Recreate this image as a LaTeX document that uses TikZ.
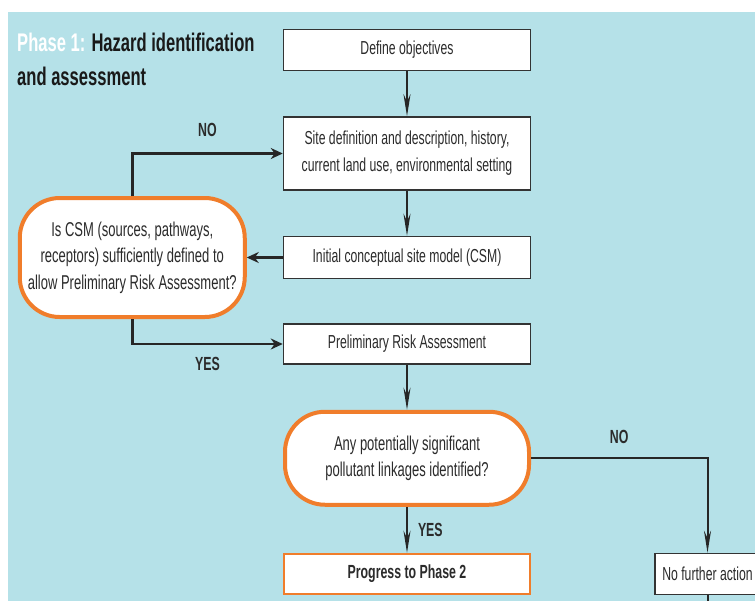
\documentclass[tikz,border=0pt]{standalone}
\usepackage{fontspec}
\setmainfont{Liberation Sans}[FakeStretch=0.65]
\usetikzlibrary{arrows.meta, positioning}
\definecolor{phasebg}{HTML}{B5E1E8}
\definecolor{decorange}{HTML}{F07D2B}
\definecolor{boxline}{HTML}{333333}
\definecolor{boxtext}{HTML}{2B2B2B}
\tikzset{
  stepbox/.style={rectangle, draw=boxline, fill=white, line width=1.5pt,
                  minimum width=247pt, minimum height=41pt, inner sep=2pt,
                  align=center, text=boxtext, font=\fontsize{18.8}{27}\selectfont},
  decbox/.style={rectangle, draw=decorange, fill=white, line width=4pt,
                 rounded corners=40pt, align=center, text=boxtext,
                 font=\fontsize{20}{26.5}\selectfont},
  endbox/.style={rectangle, draw=decorange, fill=white, line width=2.5pt,
                 minimum width=246pt, minimum height=40pt, align=center,
                 text=boxtext, font=\fontsize{19}{26}\selectfont\bfseries},
  downlink/.style={-{Stealth[length=22pt,width=7pt]}, line width=2pt, draw=black!85},
  sidelink/.style={-{Stealth[length=12pt,width=11pt]}, line width=2.8pt, draw=black!85},
  answer/.style={font=\fontsize{19}{20}\selectfont\bfseries, text=boxtext, inner sep=0pt},
  phasetitle/.style={font=\fontsize{25.5}{34}\selectfont\bfseries, text=black!90,
                     align=left, inner sep=0pt},
}

\begin{document}
\begin{tikzpicture}[x=1pt, y=-1pt]

  % --- page and blue phase panel ---
  \useasboundingbox (0,0) rectangle (755,600);
  \fill[phasebg] (8,12) rectangle (765,610);

  \node[phasetitle, anchor=north west] (title) at (17,33)
       {\textcolor{white}{Phase 1:} Hazard identification\\and assessment};

  % --- main column ---
  \node[stepbox] (objectives) at (407,50) {Define objectives};
  \node[stepbox, below=45pt of objectives, minimum height=73pt] (site)
       {Site definition and description, history,\\current land use, environmental setting};
  \node[stepbox, below=45pt of site, minimum height=42pt] (csm)
       {Initial conceptual site model (CSM)};
  \node[stepbox, below=44pt of csm, minimum height=40pt] (pra)
       {Preliminary Risk Assessment};
  \node[decbox, below=45pt of pra, minimum width=244pt, minimum height=93pt] (linkages)
       {Any potentially significant\\pollutant linkages identified?};
  \node[endbox, below=46pt of linkages] (phase2) {Progress to Phase 2};

  % --- side boxes ---
  \node[decbox, left=36pt of csm, minimum width=225pt, minimum height=119pt] (csmcheck)
       {Is CSM (sources, pathways,\\receptors) sufficiently defined to\\allow Preliminary Risk Assessment?};
  \node[stepbox, right=123pt of phase2, minimum width=105pt] (noaction) {No further action};
  \coordinate[below=20pt of noaction.south] (noactionout);

  % Links
  \draw[downlink] (objectives) -- (site);
  \draw[downlink] (site) -- (csm);
  \draw[sidelink] (csm) -- (csmcheck);
  \draw[sidelink] (csmcheck.north) |- node[answer, pos=0.75, above=15pt]{NO} (site.west);
  \draw[sidelink] (csmcheck.south) |- node[answer, pos=0.75, below=12pt]{YES} (pra.west);
  \draw[downlink] (pra) -- (linkages);
  \draw[downlink] (linkages) -- node[answer, right=10pt]{YES} (phase2);
  \draw[downlink] (linkages.east) -| node[answer, pos=0.25, above=14pt]{NO} (noaction.north);
  \draw[line width=2pt, draw=black!85] (noaction) -- (noactionout);

\end{tikzpicture}
\end{document}
